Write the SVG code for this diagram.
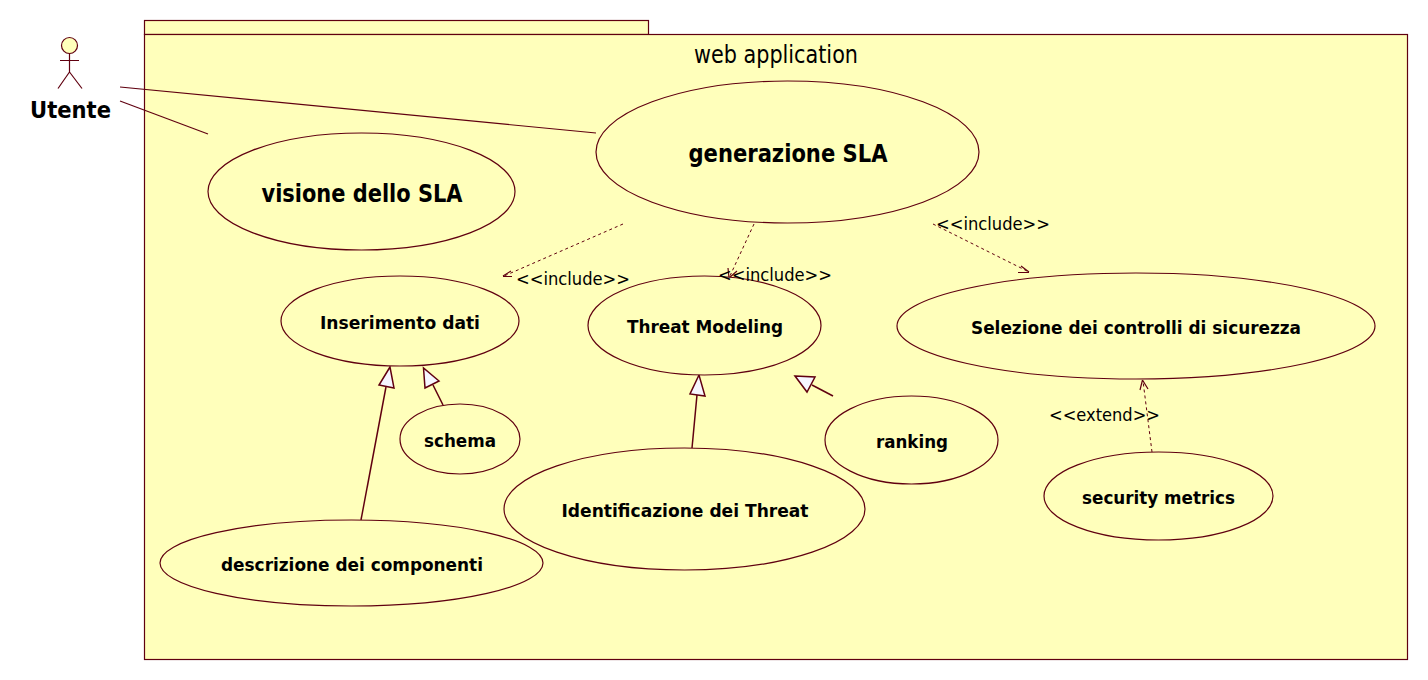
<svg xmlns="http://www.w3.org/2000/svg" width="1428" height="680" viewBox="0 0 1428 680">
<defs>
<style>
.s{fill:#ffffbb;stroke:#600010;stroke-width:1.2}
.l{fill:none;stroke:#600010;stroke-width:1.2}
.p{fill:none;stroke:#600010;stroke-width:1.5}
.d{fill:none;stroke:#600010;stroke-width:1;stroke-dasharray:3 3}
.g{fill:#f6f6ff;stroke:#600010;stroke-width:1.5}
text{font-family:"DejaVu Sans",Tahoma,sans-serif;fill:#000;text-anchor:middle}
.b{font-weight:bold}
.t{font-size:18.500px;font-family:"DejaVu Sans",sans-serif}
</style>
</defs>
<rect width="1428" height="680" fill="#fff"/>
<g id="package">
<rect class="s" x="144.500" y="20.500" width="504" height="14"/>
<rect class="s" x="144.500" y="34.500" width="1263" height="625"/>
<text x="776" y="63" font-size="24" textLength="164" lengthAdjust="spacingAndGlyphs">web application</text>
</g>
<g id="actor-utente">
<circle class="s" cx="69.500" cy="45.500" r="8"/>
<path class="l" d="M69.500 53.500V72M60 60.500H79M69.500 72L58 88.500M69.500 72L82 88.500"/>
<text class="b" x="70.500" y="118" font-size="23" textLength="81" lengthAdjust="spacingAndGlyphs">Utente</text>
</g>
<g id="connectors">
<path class="l" d="M120 87L596 133"/>
<path class="l" d="M120 101L208 134"/>
<path class="d" d="M623 224L504 276"/>
<path class="l" d="M503 276L511 271M503 276.500H512"/>
<path class="d" d="M754 224L729 278"/>
<path class="l" d="M729 278L728 268M729 278L737 271"/>
<path class="d" d="M933 224L1029 272"/>
<path class="l" d="M1029 272L1021 266M1029 272.500H1018"/>
<path class="d" d="M1152 452L1143 381"/>
<path class="l" d="M1142.500 380L1140 390M1142.500 380L1148 389"/>
<path class="p" d="M386 387L361 520"/>
<path class="p" d="M433 385L443 405"/>
<path class="p" d="M697 395L692 448"/>
<path class="p" d="M812 385L833 396"/>
<path class="g" d="M390 367L379 385L394 388Z"/>
<path class="g" d="M423.500 368L425 388L439 381Z"/>
<path class="g" d="M699 375L690 394L705 396Z"/>
<path class="g" d="M795 376L815 377L807 392Z"/>
</g>
<g id="uc-generazione"><ellipse class="s" cx="787.500" cy="152" rx="191.500" ry="71"/><text class="b" x="788" y="162" font-size="24" textLength="199" lengthAdjust="spacingAndGlyphs">generazione SLA</text></g>
<g id="uc-visione"><ellipse class="s" cx="361.500" cy="191.500" rx="153.500" ry="58.500"/><text class="b" x="362" y="202" font-size="24" textLength="201" lengthAdjust="spacingAndGlyphs">visione dello SLA</text></g>
<g id="uc-inserimento"><ellipse class="s" cx="400" cy="321" rx="119" ry="45"/><text class="b" x="400" y="329" font-size="18" textLength="160" lengthAdjust="spacingAndGlyphs">Inserimento dati</text></g>
<g id="uc-threat"><ellipse class="s" cx="704.500" cy="325.500" rx="116.500" ry="49.500"/><text class="b" x="705" y="333" font-size="18" textLength="156" lengthAdjust="spacingAndGlyphs">Threat Modeling</text></g>
<g id="uc-selezione"><ellipse class="s" cx="1136" cy="326" rx="239" ry="53"/><text class="b" x="1136" y="334" font-size="18" textLength="330" lengthAdjust="spacingAndGlyphs">Selezione dei controlli di sicurezza</text></g>
<g id="uc-schema"><ellipse class="s" cx="460" cy="439" rx="60" ry="35"/><text class="b" x="460" y="447" font-size="18" textLength="72" lengthAdjust="spacingAndGlyphs">schema</text></g>
<g id="uc-ranking"><ellipse class="s" cx="911.500" cy="440" rx="86.500" ry="44"/><text class="b" x="912" y="448" font-size="18" textLength="72" lengthAdjust="spacingAndGlyphs">ranking</text></g>
<g id="uc-metrics"><ellipse class="s" cx="1158.500" cy="496" rx="114.500" ry="44"/><text class="b" x="1158.500" y="504" font-size="18" textLength="153" lengthAdjust="spacingAndGlyphs">security metrics</text></g>
<g id="uc-identificazione"><ellipse class="s" cx="684.500" cy="509" rx="180.500" ry="61"/><text class="b" x="685" y="517" font-size="18" textLength="247" lengthAdjust="spacingAndGlyphs">Identificazione dei Threat</text></g>
<g id="uc-descrizione"><ellipse class="s" cx="351.500" cy="563" rx="191.500" ry="43"/><text class="b" x="352" y="571" font-size="18" textLength="262" lengthAdjust="spacingAndGlyphs">descrizione dei componenti</text></g>
<g id="labels">
<text class="t" x="573" y="285" textLength="114" lengthAdjust="spacingAndGlyphs">&lt;&lt;include&gt;&gt;</text>
<text class="t" x="775" y="281" textLength="114" lengthAdjust="spacingAndGlyphs">&lt;&lt;include&gt;&gt;</text>
<text class="t" x="993" y="230" textLength="114" lengthAdjust="spacingAndGlyphs">&lt;&lt;include&gt;&gt;</text>
<text class="t" x="1104.500" y="421" textLength="111" lengthAdjust="spacingAndGlyphs">&lt;&lt;extend&gt;&gt;</text>
</g>
</svg>
